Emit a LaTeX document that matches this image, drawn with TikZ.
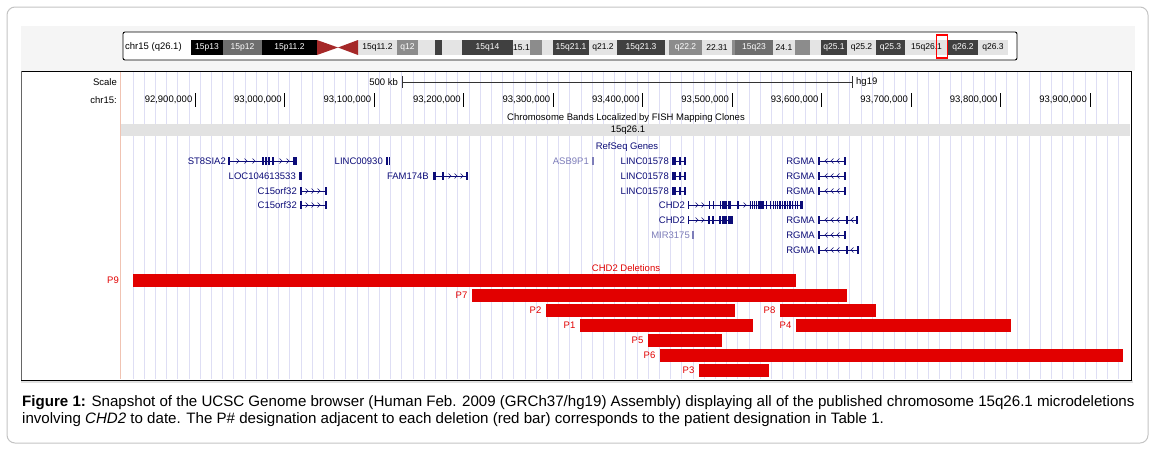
\documentclass[tikz,border=0pt]{standalone}
\usepackage{fontspec}
\setmainfont{Liberation Sans}
\usetikzlibrary{positioning}

\definecolor{ucscnavy}{RGB}{12, 12, 120}
\definecolor{ucsclav}{RGB}{125, 125, 185}
\definecolor{delred}{RGB}{226, 0, 0}
\definecolor{gridlav}{RGB}{222, 222, 244}
\definecolor{gridpink}{RGB}{240, 195, 178}
\definecolor{fishgray}{RGB}{226, 226, 226}
\definecolor{topgray}{RGB}{245, 245, 245}
\definecolor{framegray}{RGB}{195, 195, 195}
\definecolor{cenred}{RGB}{165, 40, 40}
\definecolor{gneg}{RGB}{228, 228, 228}
\definecolor{gpos25}{RGB}{140, 140, 140}
\definecolor{gpos50}{RGB}{110, 110, 110}
\definecolor{gpos75}{RGB}{64, 64, 64}

\newcommand{\trkfont}{\fontsize{9.5}{10}\selectfont}
\newcommand{\bandfont}{\fontsize{8.5}{9}\selectfont}
\newcommand{\capfont}{\fontsize{15.1}{17}\selectfont}

\begin{document}
\begin{tikzpicture}[x=1pt, y=-1pt,
  trk/.style={font=\trkfont, inner sep=0pt},
  genelbl/.style={trk, text=ucscnavy, anchor=east},
  gline/.style={ucscnavy, line width=0.8pt},
  exon/.style={ucscnavy, line width=1.3pt},
  chev/.style={ucscnavy, line width=0.6pt}]
  \useasboundingbox (0,0) rectangle (1155,448);

  % Outer frame
  \draw[framegray, rounded corners=8pt, line width=1pt] (7,7) rectangle (1148,443);

  % Browser image
  \fill[topgray] (21,26) rectangle (1135,71);
  \fill[white] (21,71) rectangle (1131,380);
  \fill[black!12] (21,380) rectangle (1133,383);
  \foreach \k in {0,...,88}
    \draw[gridlav, line width=0.8pt] (133+\k*11.2,72) -- (133+\k*11.2,379);
  \draw[gridpink, line width=0.8pt] (120.5,72) -- (120.5,379);
  \draw[black, line width=1pt] (21,71) -- (1131,71) -- (1131,380) -- (21,380);
  \draw[black!60, line width=0.8pt] (21,71) -- (21,380);

  % Ideogram
  \draw[black, rounded corners=2pt, line width=0.9pt, fill=white] (123,32) rectangle (1017,60);
  \node[trk, anchor=west] (chrname) at (125,47.5) {chr15 (q26.1)};
  \foreach \xa/\xb/\col/\tcol/\lbl in {191/223/black/white/15p13, 223/262/gpos50/white/15p12,
      262/317/black/white/15p11.2, 358/397/gneg/black/15q11.2, 397/418/gpos25/white/q12,
      418/435/gneg/black/, 435/442/gpos75/white/, 442/462/gneg/black/, 462/513/gpos75/white/15q14,
      513/530/gneg/black/15.1, 530/542/gpos25/white/, 542/553/gneg/black/,
      553/589/gpos75/white/15q21.1, 589/617/gneg/black/q21.2, 617/665/gpos75/white/15q21.3,
      665/669/gneg/black/, 669/702/gpos25/white/q22.2, 702/732/gneg/black/22.31,
      732/735/gpos25/white/, 735/773/gpos50/white/15q23, 773/795/gneg/black/24.1,
      795/810/gpos25/white/, 810/821/gneg/black/, 821/847/gpos75/white/q25.1,
      847/876/gneg/black/q25.2, 876/905/gpos75/white/q25.3, 905/948/gneg/black/15q26.1,
      948/978/gpos75/white/q26.2, 978/1008/gneg/black/q26.3} {
    \fill[\col] (\xa,40) rectangle (\xb,55);
    \node[font=\bandfont, text=\tcol, inner sep=0pt] (band\xa) at ({(\xa+\xb)/2},47.5) {\lbl};
  }
  \fill[cenred] (317,40) -- (338,47.5) -- (317,55) -- cycle;
  \fill[cenred] (358,40) -- (338,47.5) -- (358,55) -- cycle;
  \draw[red, line width=1.3pt] (936.5,35) rectangle (947.5,58);

  % Scale and position
  \node[trk, anchor=east] (scalelbl) at (117,82) {Scale};
  \node[trk, anchor=east] (chrlbl) at (117,100) {chr15:};
  \node[trk, anchor=east] (kblbl) at (398,82) {500 kb};
  \node[trk, anchor=west] (hglbl) at (856,82) {hg19};
  \draw[black!80, line width=0.8pt] (402,76) -- (402,88) (402,82) -- (852,82) (852,76) -- (852,88);
  \foreach \i/\ma/\mb in {0/92/900, 1/93/000, 2/93/100, 3/93/200, 4/93/300, 5/93/400,
      6/93/500, 7/93/600, 8/93/700, 9/93/800, 10/93/900} {
    \draw[black, line width=1pt] (195.5+\i*89.45,93) -- (195.5+\i*89.45,107);
    \node[trk, anchor=east] (tick\i) at (192.5+\i*89.45,100) {\ma,\mb,000};
  }

  % FISH bands
  \node[trk] (fishlbl) at (626,118) {Chromosome Bands Localized by FISH Mapping Clones};
  \fill[fishgray] (121,124) rectangle (1130,136);
  \node[trk] (bandlbl) at (628,130) {15q26.1};

  % RefSeq genes
  \node[trk, text=ucscnavy] (refseqlbl) at (627,147) {RefSeq Genes};

  \node[genelbl] (st8sia2) at (226,161) {ST8SIA2};
  \draw[gline] (229,161) -- (296,161);
  \foreach \x in {229,263,266,269,273} \draw[exon] (\x,157) -- (\x,165);
  \fill[ucscnavy] (293,157) rectangle (297,165);
  \foreach \x in {238,246,254,281,288} \draw[chev] (\x-1.5,158.5) -- (\x+1,161) -- (\x-1.5,163.5);

  \node[genelbl] (linc00930) at (383,161) {LINC00930};
  \foreach \x in {387,389.5} \draw[exon] (\x,157) -- (\x,165);

  \node[genelbl, text=ucsclav] (asb9p1) at (589,161) {ASB9P1};
  \draw[ucsclav, line width=1.4pt] (593,157) -- (593,165);

  \foreach \y in {161,176,191} {
    \node[genelbl] (linc\y) at (669,\y) {LINC01578};
    \draw[gline] (672,\y) -- (685,\y);
    \fill[ucscnavy] (672,\y-4) rectangle (676,\y+4);
    \foreach \x in {680,685} \draw[exon] (\x,\y-4) -- (\x,\y+4);
  }

  \node[genelbl] (loc104) at (296,176) {LOC104613533};
  \fill[ucscnavy] (299,172) rectangle (301.5,180);

  \node[genelbl] (fam174b) at (429,176) {FAM174B};
  \draw[gline] (433,176) -- (467,176);
  \fill[ucscnavy] (433,172) rectangle (436,180);
  \foreach \x in {443,467} \draw[exon] (\x,172) -- (\x,180);
  \foreach \x in {450,456,462} \draw[chev] (\x-1.5,173.5) -- (\x+1,176) -- (\x-1.5,178.5);

  \foreach \y in {191,205} {
    \node[genelbl] (c15orf\y) at (297,\y) {C15orf32};
    \draw[gline] (300,\y) -- (326,\y);
    \fill[ucscnavy] (300,\y-4) rectangle (301.8,\y+4);
    \draw[exon] (326,\y-4) -- (326,\y+4);
    \foreach \x in {307,313,319} \draw[chev] (\x-1.5,\y-2.5) -- (\x+1,\y) -- (\x-1.5,\y+2.5);
  }

  \node[genelbl] (chd2a) at (685,205) {CHD2};
  \draw[gline] (688,205) -- (803,205);
  \foreach \x in {688.3,709.3,713.3,720.7,722.7,724,725.3,726.7,728.7,730,737.3,738.7,750.7,752.7,
      754.3,756.7,758.3,760,762,763.3,766.7,770.7,773.3,775.3,777.3,780,782.7,785,787.7,790,
      792.7,795.3,797.7}
    \draw[exon] (\x,201) -- (\x,209);
  \fill[ucscnavy] (800,201) rectangle (803,209);
  \foreach \x in {697,703,745} \draw[chev] (\x-1.5,202.5) -- (\x+1,205) -- (\x-1.5,207.5);

  \node[genelbl] (chd2b) at (685,220) {CHD2};
  \draw[gline] (688,220) -- (732,220);
  \foreach \x in {688.3,709,713,720,722.7,724,725.3,726.7,728.7,730,732}
    \draw[exon] (\x,216) -- (\x,224);
  \foreach \x in {697,703} \draw[chev] (\x-1.5,217.5) -- (\x+1,220) -- (\x-1.5,222.5);

  \node[genelbl, text=ucsclav] (mir3175) at (690,235) {MIR3175};
  \draw[ucsclav, line width=1.4pt] (693,231) -- (693,239);

  \foreach \y in {161,176,191,235} {
    \node[genelbl] (rgma\y) at (815,\y) {RGMA};
    \draw[gline] (818,\y) -- (845,\y);
    \fill[ucscnavy] (818,\y-4) rectangle (820,\y+4);
    \draw[exon] (845,\y-4) -- (845,\y+4);
    \foreach \x in {826,832,838} \draw[chev] (\x+1.5,\y-2.5) -- (\x-1,\y) -- (\x+1.5,\y+2.5);
  }
  \foreach \y/\xe in {220/857, 250/858} {
    \node[genelbl] (rgma\y) at (815,\y) {RGMA};
    \draw[gline] (818,\y) -- (\xe,\y);
    \fill[ucscnavy] (818,\y-4) rectangle (820,\y+4);
    \foreach \x in {847,\xe} \draw[exon] (\x,\y-4) -- (\x,\y+4);
    \foreach \x in {826,832,838,852} \draw[chev] (\x+1.5,\y-2.5) -- (\x-1,\y) -- (\x+1.5,\y+2.5);
  }

  % CHD2 deletions
  \node[trk, text=delred] (dellbl) at (626,268) {CHD2 Deletions};
  \foreach \nm/\xa/\xb/\r/\gap in {P9/133/796/0/14, P7/472/847/1/4.5, P2/546/735/2/4.5,
      P8/780/876/2/4.5, P1/580/753/3/4.5, P4/796/1011/3/4.5, P5/648/722/4/4.5,
      P6/660/1123/5/4.5, P3/699/769/6/4.5} {
    \fill[delred] (\xa,274+\r*15) rectangle (\xb,287+\r*15);
    \node[trk, text=delred, anchor=east] (lbl\nm) at (\xa-\gap,280.5+\r*15) {\nm};
  }

  % Caption
  \node[anchor=base west, inner sep=0pt, font=\capfont] (cap1) at (22,406)
    {\textbf{Figure 1:} Snapshot of the UCSC Genome browser (Human Feb. 2009 (GRCh37/hg19) Assembly) displaying all of the published chromosome 15q26.1 microdeletions};
  \node[anchor=base west, inner sep=0pt, font=\capfont] (cap2) at (22,423)
    {involving \textit{CHD2} to date. The P\# designation adjacent to each deletion (red bar) corresponds to the patient designation in Table 1.};
\end{tikzpicture}
\end{document}
